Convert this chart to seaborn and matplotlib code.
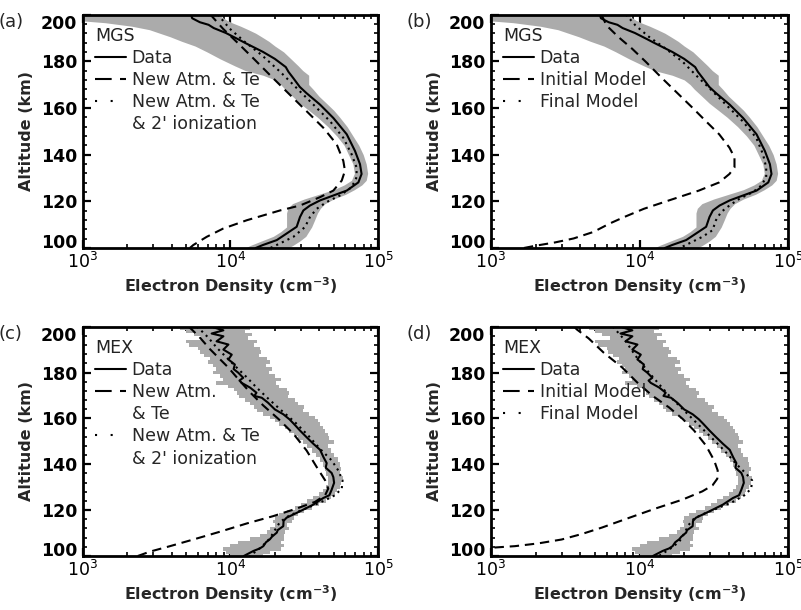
import numpy as np
import pandas as pd
import matplotlib
matplotlib.use("Agg")
import matplotlib.pyplot as plt
from matplotlib.lines import Line2D
from matplotlib.ticker import LogLocator, MultipleLocator, FixedLocator, NullFormatter
import seaborn as sns

# ---------------- data ----------------
# MGS observed profile (km, cm^-3)
mgs_alt = [200, 198.4, 196.7, 195.6, 194.2, 192.1, 189.5, 187.8, 184, 181, 177.5, 175.5,
           172.7, 169, 166.3, 161.4, 155.7, 148.7, 141.6, 135.9, 131.7, 128.1, 124.6,
           122.5, 120.4, 118.2, 116.1, 113.3, 109.1, 106.2, 103.4, 101.3, 100]
mgs_ne = [5.4e3, 5.5e3, 6.2e3, 7.1e3, 7.7e3, 9.3e3, 1.12e4, 1.26e4, 1.66e4, 2.0e4, 2.37e4, 2.47e4,
          2.67e4, 2.95e4, 3.28e4, 4.05e4, 4.98e4, 6.14e4, 6.98e4, 7.55e4, 7.74e4, 7.36e4, 6.14e4,
          4.98e4, 4.05e4, 3.46e4, 3.12e4, 2.96e4, 2.81e4, 2.40e4, 2.06e4, 1.66e4, 1.48e4]

# MGS uncertainty band
mgs_band_alt = [200, 199, 197.5, 196.5, 195, 193.5, 192, 190.5, 188.5, 186.5, 184, 181, 178, 176,
                174, 172, 170, 168, 165, 162, 159, 156, 152, 148, 144, 140, 136, 132, 129, 127,
                125, 123, 121, 119, 117, 115, 112, 109, 107, 105, 103, 101, 100]
mgs_band_lo = [9.0e2, 9.0e2, 9.0e2, 1.41e3, 2.14e3, 2.82e3, 3.31e3, 3.89e3, 4.68e3, 5.75e3, 6.92e3,
               8.51e3, 1.07e4, 1.26e4, 1.66e4, 2.0e4, 2.19e4, 2.34e4, 2.63e4, 2.95e4, 3.39e4,
               3.89e4, 4.57e4, 5.25e4, 5.89e4, 6.31e4, 6.76e4, 6.92e4, 6.61e4, 5.89e4, 5.01e4,
               3.98e4, 3.16e4, 2.63e4, 2.45e4, 2.40e4, 2.40e4, 2.40e4, 2.19e4, 1.95e4, 1.62e4,
               1.35e4, 1.26e4]
mgs_band_hi = [8.3e3, 8.7e3, 9.5e3, 1.02e4, 1.17e4, 1.32e4, 1.48e4, 1.62e4, 1.82e4, 2.0e4, 2.29e4,
               2.57e4, 2.88e4, 3.09e4, 3.39e4, 3.39e4, 3.39e4, 3.63e4, 3.98e4, 4.47e4, 5.01e4,
               5.50e4, 6.17e4, 6.76e4, 7.41e4, 7.94e4, 8.32e4, 8.51e4, 8.32e4, 7.76e4, 6.92e4,
               6.03e4, 5.01e4, 4.37e4, 4.07e4, 3.89e4, 3.72e4, 3.55e4, 3.39e4, 3.24e4, 2.95e4,
               2.63e4, 2.45e4]

# (a) New Atm. & Te
a_dash_alt = [200, 199.6, 193.9, 188.3, 181.2, 174.1, 165.6, 158.6, 151.5, 144.4, 137.3, 133.1,
              128.9, 124.6, 121.8, 118.2, 116.1, 111.9, 108.3, 104.8, 101.3, 100]
a_dash_ne = [7.2e3, 7.4e3, 8.9e3, 1.10e4, 1.43e4, 1.85e4, 2.53e4, 3.28e4, 4.26e4, 5.25e4, 5.82e4,
             5.97e4, 5.68e4, 4.98e4, 4.05e4, 2.96e4, 2.17e4, 1.29e4, 8.9e3, 6.9e3, 5.6e3, 5.3e3]
# (a) New Atm. & Te & 2' ionization
a_dot_alt = [200, 199.6, 193.9, 188.3, 182.6, 175.5, 168.5, 161.4, 154.3, 147.2, 140.2, 134.5,
             130.3, 126, 122.5, 119.7, 116.8, 113.3, 109, 104.8, 102, 100]
a_dot_ne = [8.2e3, 8.3e3, 9.9e3, 1.25e4, 1.63e4, 2.17e4, 2.81e4, 3.65e4, 4.73e4, 5.82e4, 6.62e4,
            7.16e4, 7.16e4, 6.62e4, 5.52e4, 4.49e4, 3.84e4, 3.46e4, 3.20e4, 2.67e4, 2.17e4, 1.86e4]

# (b) Initial Model
b_dash_alt = [200, 199.3, 195.3, 190.4, 185.4, 179.8, 172.7, 165.6, 160, 154.3, 148.7, 143, 138.8,
              134.5, 131.7, 128.1, 124.6, 120.4, 116.8, 113.3, 110.5, 106.9, 104.1, 102.4, 101, 100]
b_dash_ne = [5.5e3, 5.6e3, 6.0e3, 7.2e3, 8.9e3, 1.10e4, 1.42e4, 1.85e4, 2.28e4, 2.80e4, 3.44e4,
             4.03e4, 4.36e4, 4.36e4, 4.03e4, 3.44e4, 2.51e4, 1.58e4, 1.07e4, 7.9e3, 6.3e3, 4.9e3,
             3.6e3, 2.7e3, 2.0e3, 1.66e3]
# (b) Final Model
b_dot_alt = [200, 199.6, 195.3, 190.4, 185.4, 179.8, 174.1, 168.5, 161.4, 154.3, 147.2, 140.2,
             134.5, 130.3, 126.7, 123.9, 121.1, 118.2, 115.4, 111.9, 107.6, 104.8, 102, 100]
b_dot_ne = [8.1e3, 8.2e3, 9.4e3, 1.16e4, 1.50e4, 1.95e4, 2.39e4, 2.95e4, 3.82e4, 4.95e4, 6.11e4,
            6.78e4, 7.13e4, 7.13e4, 6.59e4, 5.79e4, 4.71e4, 4.03e4, 3.54e4, 3.27e4, 3.10e4,
            2.65e4, 2.16e4, 1.86e4]

# MEX observed profile
mex_alt = [200, 199.7, 198.4, 197.0, 195.8, 193.6, 192.2, 190.0, 187.8, 185.7, 183.5, 181.5, 179.9,
           177.7, 176.5, 175.5, 173.4, 171.2, 169.8, 169, 166.8, 163.9, 161.8, 159.6, 157.6,
           154.7, 151.8, 148.9, 146.3, 143.1, 140.5, 138.5, 136.2, 134.4, 131.9, 128.9, 126.5,
           125.3, 122.4, 119.5, 116.7, 115.3, 113.0, 111.3, 110.2, 108.4, 107.3, 106, 104.3,
           103.3, 102.2, 100.7, 100]
mex_ne = [8.5e3, 7.66e3, 8.95e3, 7.45e3, 8.95e3, 8.05e3, 9.68e3, 8.95e3, 1.02e4, 9.68e3, 1.07e4,
          1.05e4, 1.13e4, 1.22e4, 1.15e4, 1.19e4, 1.36e4, 1.50e4, 1.45e4, 1.63e4, 1.80e4, 2.00e4,
          2.28e4, 2.51e4, 2.69e4, 2.96e4, 3.28e4, 3.65e4, 4.05e4, 4.27e4, 4.49e4, 4.42e4, 4.85e4,
          4.98e4, 5.04e4, 4.85e4, 4.68e4, 4.26e4, 3.64e4, 2.96e4, 2.40e4, 2.29e4, 2.28e4, 2.09e4,
          2.06e4, 1.91e4, 1.85e4, 1.74e4, 1.67e4, 1.58e4, 1.43e4, 1.29e4, 1.23e4]

# MEX uncertainty band
mex_band_alt = [200, 199.5, 198, 196.5, 195, 193.5, 192, 190.5, 189, 187.5, 186, 184.5, 183, 181.5,
                180, 178.5, 177, 175.5, 174, 172.5, 171, 169.5, 168, 166.5, 165, 163.5, 162,
                160.5, 159, 157.5, 156, 154.5, 153, 151.5, 150, 148, 146, 144, 142, 140, 138,
                136, 134, 132, 130, 128.5, 127, 125.5, 124, 122.5, 121, 119.5, 118, 116.5, 115,
                113.5, 112, 110.5, 109, 107.5, 106, 104.5, 103, 101.5, 100]
mex_band_lo = [4.57e3, 4.57e3, 5.01e3, 5.62e3, 6.31e3, 5.01e3, 5.25e3, 6.03e3, 6.17e3, 6.61e3,
               7.24e3, 7.08e3, 7.59e3, 7.94e3, 7.59e3, 8.51e3, 8.91e3, 7.94e3, 9.55e3, 1.05e4,
               1.10e4, 1.15e4, 1.26e4, 1.35e4, 1.45e4, 1.51e4, 1.66e4, 1.86e4, 2.00e4, 2.14e4,
               2.34e4, 2.51e4, 2.69e4, 2.88e4, 3.09e4, 3.31e4, 3.55e4, 3.80e4, 4.07e4, 4.27e4,
               4.37e4, 4.47e4, 4.57e4, 4.57e4, 4.47e4, 4.27e4, 3.98e4, 3.63e4, 3.31e4, 3.02e4,
               2.75e4, 2.40e4, 2.14e4, 2.00e4, 1.95e4, 2.00e4, 1.86e4, 1.78e4, 1.58e4, 1.35e4,
               1.12e4, 1.00e4, 8.91e3, 9.33e3, 1.00e4]
mex_band_hi = [1.35e4, 1.35e4, 1.26e4, 1.41e4, 1.32e4, 1.51e4, 1.45e4, 1.58e4, 1.62e4, 1.55e4,
               1.78e4, 1.86e4, 1.74e4, 1.91e4, 1.82e4, 2.00e4, 2.19e4, 2.04e4, 2.14e4, 2.40e4,
               2.51e4, 2.45e4, 2.75e4, 2.88e4, 3.16e4, 3.09e4, 3.39e4, 3.72e4, 3.89e4, 4.07e4,
               4.27e4, 4.37e4, 4.57e4, 4.68e4, 5.01e4, 4.57e4, 4.79e4, 5.01e4, 5.37e4, 5.50e4,
               5.62e4, 5.50e4, 5.75e4, 5.62e4, 5.50e4, 5.25e4, 5.13e4, 4.79e4, 4.47e4, 3.98e4,
               3.55e4, 3.16e4, 2.88e4, 2.69e4, 2.63e4, 2.40e4, 2.51e4, 2.34e4, 2.29e4, 2.29e4,
               2.19e4, 2.29e4, 2.19e4, 1.86e4, 1.66e4]

# (c) New Atm. & Te
c_dash_alt = [200, 198.8, 195.2, 190.2, 185.8, 182.2, 177.1, 171.3, 165.6, 159.8, 153.3, 146,
              138.8, 133, 129.4, 126.5, 123.6, 120.7, 117.4, 114.2, 110.6, 107.2, 104.3, 101.9, 100]
c_dash_ne = [5.2e3, 5.46e3, 6.21e3, 7.26e3, 8.49e3, 9.66e3, 1.13e4, 1.36e4, 1.67e4, 2.11e4, 2.67e4,
             3.28e4, 3.84e4, 4.38e4, 4.60e4, 4.38e4, 3.74e4, 2.81e4, 1.95e4, 1.29e4, 8.49e3,
             5.60e3, 3.89e3, 2.84e3, 2.35e3]
# (c) New Atm. & Te & 2' ionization
c_dot_alt = [200, 198.8, 195.2, 190.9, 186.5, 182.2, 177.9, 173.5, 168.5, 163.4, 158.3, 152.5,
             146.7, 141.7, 137.3, 133, 129.4, 126.5, 124.3, 122.1, 119.7, 117.4, 114.9, 111.3,
             107.7, 104.1, 101.2, 100]
c_dot_ne = [5.9e3, 6.21e3, 7.08e3, 8.05e3, 9.42e3, 1.10e4, 1.29e4, 1.50e4, 1.81e4, 2.22e4, 2.74e4,
            3.37e4, 4.05e4, 4.85e4, 5.38e4, 5.75e4, 5.68e4, 5.11e4, 4.38e4, 3.65e4, 2.96e4,
            2.47e4, 2.17e4, 2.00e4, 1.85e4, 1.63e4, 1.43e4, 1.35e4]

# (d) Initial Model
d_dash_alt = [200, 198.8, 194.9, 188.7, 182.2, 175.7, 169.9, 164.8, 159.8, 154.7, 148.2, 141.7,
              137.3, 133.7, 130.8, 128.2, 124.6, 120.7, 116.6, 112.4, 109.6, 107.2, 105.5, 104.3,
              103.6, 103.2]
d_dash_ne = [3.63e3, 3.78e3, 4.54e3, 5.73e3, 7.64e3, 9.64e3, 1.22e4, 1.58e4, 1.95e4, 2.33e4,
             2.80e4, 3.18e4, 3.36e4, 3.34e4, 3.10e4, 2.65e4, 1.95e4, 1.28e4, 8.47e3, 5.58e3,
             4.09e3, 2.99e3, 2.08e3, 1.45e3, 1.0e3, 8.5e2]
# (d) Final Model
d_dot_alt = [200, 198.8, 193.8, 187.3, 180.8, 175, 169.2, 163.4, 157.6, 151.8, 146, 140.2, 135.9,
             133, 129.4, 126.5, 123.6, 121.1, 118.8, 116.4, 113.5, 109.8, 106.2, 103.3, 100.9, 100]
d_dot_ne = [6.6e3, 6.87e3, 8.04e3, 9.4e3, 1.13e4, 1.35e4, 1.62e4, 2.0e4, 2.46e4, 3.03e4, 3.72e4,
            4.47e4, 5.22e4, 5.73e4, 5.65e4, 5.09e4, 4.25e4, 3.44e4, 2.80e4, 2.33e4, 2.14e4,
            2.0e4, 1.85e4, 1.62e4, 1.42e4, 1.35e4]

panel_letters = ["(a)", "(b)", "(c)", "(d)"]
panel_titles = ["MGS", "MGS", "MEX", "MEX"]
y_ticks = [100, 120, 140, 160, 180, 200]
x_ticks = [1e3, 1e4, 1e5]

# ---------------- style ----------------
sns.set_theme(style="ticks")
plt.rcParams["font.family"] = ["DejaVu Sans"]
plt.rcParams["mathtext.fontset"] = "dejavusans"
plt.rcParams["axes.linewidth"] = 2.0

BAND = "#ababab"
LW = 1.5
DASH = (0, (4.5, 2.8))
DOT = (0, (1.0, 2.0))

fig = plt.figure(figsize=(8.01, 6.10), dpi=100)
positions = [
    [0.1036, 0.5934, 0.3683, 0.3828],
    [0.6130, 0.5934, 0.3708, 0.3828],
    [0.1036, 0.0885, 0.3683, 0.3760],
    [0.6130, 0.0885, 0.3708, 0.3760],
]
axes = [fig.add_axes(p) for p in positions]

panels = [
    dict(band=(mgs_band_alt, mgs_band_lo, mgs_band_hi), step=None, data=(mgs_alt, mgs_ne),
         dash=(a_dash_alt, a_dash_ne), dot=(a_dot_alt, a_dot_ne),
         labels=["Data", "New Atm. & Te", "New Atm. & Te", "& 2' ionization"],
         order=["data", "dash", "dot", None]),
    dict(band=(mgs_band_alt, mgs_band_lo, mgs_band_hi), step=None, data=(mgs_alt, mgs_ne),
         dash=(b_dash_alt, b_dash_ne), dot=(b_dot_alt, b_dot_ne),
         labels=["Data", "Initial Model", "Final Model"],
         order=["data", "dash", "dot"]),
    dict(band=(mex_band_alt, mex_band_lo, mex_band_hi), step="mid", data=(mex_alt, mex_ne),
         dash=(c_dash_alt, c_dash_ne), dot=(c_dot_alt, c_dot_ne),
         labels=["Data", "New Atm.", "& Te", "New Atm. & Te", "& 2' ionization"],
         order=["data", "dash", None, "dot", None]),
    dict(band=(mex_band_alt, mex_band_lo, mex_band_hi), step="mid", data=(mex_alt, mex_ne),
         dash=(d_dash_alt, d_dash_ne), dot=(d_dot_alt, d_dot_ne),
         labels=["Data", "Initial Model", "Final Model"],
         order=["data", "dash", "dot"]),
]

legend_proxies = {
    "data": Line2D([], [], color="black", lw=LW),
    "dash": Line2D([], [], color="black", lw=LW, linestyle=(0, (8, 4))),
    "dot": Line2D([], [], color="black", lw=LW, linestyle=(0, (1, 6.5))),
}

for ax, p, letter, title in zip(axes, panels, panel_letters, panel_titles):
    balt, blo, bhi = p["band"]
    ax.fill_betweenx(balt, blo, bhi, step=p["step"], color=BAND, lw=0, zorder=1)

    sns.lineplot(x=p["data"][1], y=p["data"][0], sort=False, estimator=None, ax=ax,
                 color="black", lw=LW, zorder=3, legend=False)
    sns.lineplot(x=p["dash"][1], y=p["dash"][0], sort=False, estimator=None, ax=ax,
                 color="black", lw=LW, linestyle=DASH, zorder=3, legend=False)
    sns.lineplot(x=p["dot"][1], y=p["dot"][0], sort=False, estimator=None, ax=ax,
                 color="black", lw=LW, linestyle=DOT, zorder=3, legend=False)

    leg_handles = []
    for key in p["order"]:
        if key is None:
            leg_handles.append(Line2D([], [], color="none"))
        else:
            leg_handles.append(legend_proxies[key])
    leg = ax.legend(leg_handles, p["labels"], loc="upper left", bbox_to_anchor=(0, 1),
                    title=title, alignment="left", frameon=False, fontsize=12.5,
                    title_fontsize=12.5, handlelength=1.8, handletextpad=0.3,
                    labelspacing=0.24, borderaxespad=0.15, borderpad=0.55)
    leg.get_title().set_color("#222222")

    ax.set_xscale("log")
    ax.set_xlim(1e3, 1e5)
    ax.set_ylim(100, 200)
    ax.xaxis.set_major_locator(FixedLocator(x_ticks))
    ax.xaxis.set_minor_locator(LogLocator(base=10, subs=np.arange(2, 10)))
    ax.xaxis.set_minor_formatter(NullFormatter())
    ax.yaxis.set_major_locator(FixedLocator(y_ticks))
    ax.yaxis.set_minor_locator(MultipleLocator(4))
    ax.tick_params(which="both", direction="in", top=True, right=True, colors="black")
    ax.tick_params(which="major", length=6, width=1.6)
    ax.tick_params(which="minor", length=3, width=1.2)
    ax.tick_params(axis="y", which="major", labelsize=12.5, pad=4)
    ax.tick_params(axis="x", which="major", labelsize=12.5, pad=3)
    yt = ax.yaxis.get_major_ticks()
    for t in yt:
        t.label1.set_fontweight("bold")
    yt[0].label1.set_va("baseline")
    yt[-1].label1.set_va("top")
    ax.set_xlabel("Electron Density (cm$^{\\mathbf{-3}}$)", fontsize=11.5, fontweight="bold",
                  labelpad=2)
    ax.set_ylabel("Altitude (km)", fontsize=11.5, fontweight="bold", labelpad=5)
    for s in ax.spines.values():
        s.set_linewidth(2.0)
        s.set_color("black")
    ax.text(-0.285, 0.97, letter, transform=ax.transAxes, ha="left", va="center",
            fontsize=13)
    ax.set_facecolor("white")

fig.savefig("out.png", dpi=100, facecolor="white")
